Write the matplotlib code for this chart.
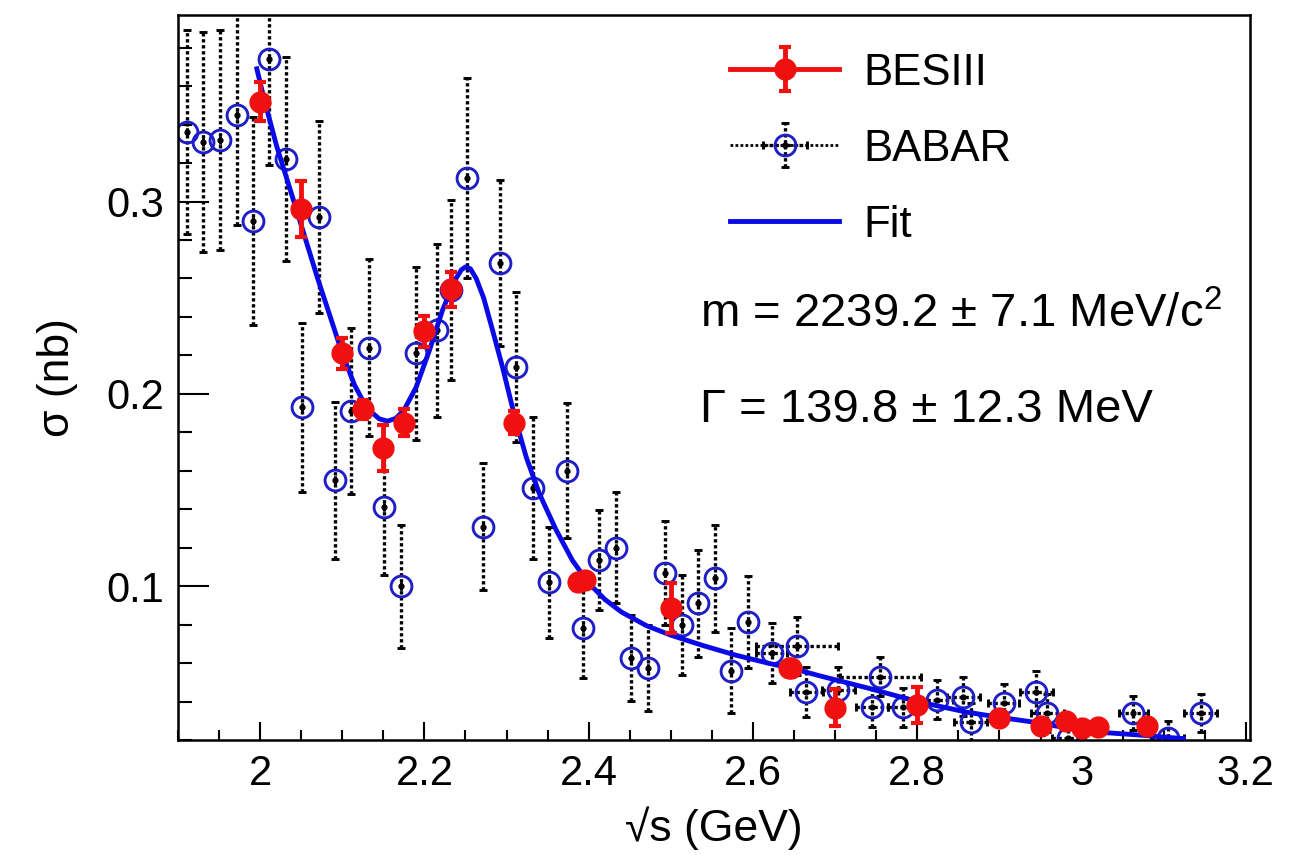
import matplotlib
matplotlib.use("Agg")
import matplotlib.pyplot as plt
from matplotlib.lines import Line2D
from matplotlib.ticker import FixedLocator, MultipleLocator

plt.rcParams['font.family'] = ['Liberation Sans', 'DejaVu Sans']
plt.rcParams['mathtext.fontset'] = 'custom'
plt.rcParams['mathtext.rm'] = 'Liberation Sans'

# BESIII points
bes_x = [2.0, 2.05, 2.1, 2.125, 2.15, 2.175, 2.2, 2.2324, 2.3094, 2.3864, 2.396,
         2.5, 2.6444, 2.6464, 2.7, 2.8, 2.9, 2.95, 2.981, 3.0, 3.02, 3.08]
bes_y = [0.352, 0.296, 0.221, 0.192, 0.172, 0.185, 0.2326, 0.2544, 0.185, 0.102, 0.103,
         0.0886, 0.0575, 0.0575, 0.0368, 0.0383, 0.0316, 0.0275, 0.0301, 0.0264, 0.0268, 0.0275]
bes_err = [0.010, 0.0147, 0.008, 0.005, 0.012, 0.007, 0.008, 0.009, 0.006, 0.004, 0.003,
           0.013, 0.003, 0.003, 0.0095, 0.0095, 0.003, 0.003, 0.003, 0.003, 0.003, 0.003]

# BABAR points
babar_x = [1.911, 1.931, 1.951, 1.972, 1.991, 2.011, 2.032, 2.051, 2.072, 2.091,
           2.111, 2.132, 2.151, 2.172, 2.190, 2.215, 2.232, 2.252, 2.271, 2.292,
           2.312, 2.332, 2.352, 2.373, 2.393, 2.412, 2.433, 2.452, 2.472, 2.493,
           2.513, 2.533, 2.554, 2.573, 2.594, 2.623, 2.654, 2.665, 2.704, 2.745,
           2.755, 2.783, 2.824, 2.856, 2.865, 2.905, 2.945, 2.958, 2.984, 3.063,
           3.105, 3.145]
babar_y = [0.336, 0.331, 0.332, 0.345, 0.290, 0.374, 0.322, 0.193, 0.292, 0.155,
           0.191, 0.224, 0.141, 0.100, 0.221, 0.233, 0.254, 0.312, 0.131, 0.268,
           0.214, 0.151, 0.102, 0.160, 0.078, 0.1135, 0.120, 0.0627, 0.0575, 0.1067,
           0.080, 0.091, 0.104, 0.056, 0.0814, 0.0653, 0.069, 0.045, 0.046, 0.037,
           0.053, 0.037, 0.041, 0.0425, 0.0295, 0.039, 0.045, 0.034, 0.021, 0.034,
           0.021, 0.034]
babar_yerr = [0.053, 0.057, 0.057, 0.057, 0.054, 0.055, 0.053, 0.044, 0.050, 0.041,
              0.043, 0.046, 0.035, 0.032, 0.045, 0.045, 0.047, 0.052, 0.033, 0.043,
              0.039, 0.037, 0.029, 0.035, 0.026, 0.026, 0.029, 0.0225, 0.0225, 0.027,
              0.026, 0.028, 0.028, 0.022, 0.024, 0.0155, 0.015, 0.013, 0.012, 0.010,
              0.010, 0.010, 0.010, 0.010, 0.010, 0.010, 0.011, 0.010, 0.010, 0.009,
              0.009, 0.010]
babar_xerr = [0.0] * 35 + [0.019, 0.05, 0.02, 0.02, 0.019, 0.049, 0.019, 0.02, 0.02,
                           0.02, 0.019, 0.02, 0.02, 0.02, 0.018, 0.02, 0.02]

# fit curve
fit_x = [1.996, 2.005, 2.020, 2.044, 2.070, 2.100, 2.115, 2.130, 2.145, 2.155,
         2.165, 2.175, 2.190, 2.206, 2.222, 2.237, 2.245, 2.250, 2.256, 2.263,
         2.272, 2.283, 2.295, 2.310, 2.324, 2.340, 2.360, 2.380, 2.400, 2.420,
         2.440, 2.470, 2.500, 2.540, 2.580, 2.620, 2.650, 2.680, 2.740, 2.800,
         2.860, 2.900, 2.950, 2.990, 3.030, 3.070, 3.124]
fit_y = [0.3690, 0.3530, 0.3290, 0.2960, 0.2600, 0.2210, 0.2045, 0.1925, 0.1870, 0.1858,
         0.1872, 0.1915, 0.2035, 0.2225, 0.2435, 0.2590, 0.2645, 0.2660, 0.2650, 0.2600,
         0.2500, 0.2330, 0.2140, 0.1880, 0.1670, 0.1480, 0.1295, 0.1135, 0.1015, 0.0930,
         0.0865, 0.0795, 0.0745, 0.0690, 0.0640, 0.0598, 0.0570, 0.0535, 0.0470, 0.0400,
         0.0345, 0.0318, 0.0288, 0.0256, 0.0238, 0.0226, 0.0207]

xticks = [2.0, 2.2, 2.4, 2.6, 2.8, 3.0, 3.2]
xtick_labels = ['2', '2.2', '2.4', '2.6', '2.8', '3', '3.2']
yticks = [0.1, 0.2, 0.3]
ytick_labels = ['0.1', '0.2', '0.3']


def main():
    fig = plt.figure(figsize=(13.03, 8.55), dpi=100)
    ax = fig.add_axes([0.1366, 0.1345, 0.8227, 0.848])

    babar = ax.errorbar(babar_x, babar_y, yerr=babar_yerr, xerr=babar_xerr, fmt='o',
                        ms=15, mfc='none', mec='#1f1fc8', mew=2.1, ecolor='black',
                        elinewidth=2.4, capsize=3, capthick=1.5, zorder=2)
    for c in babar[2]:
        c.set_linestyle((0, (1.0, 0.8)))
    dots, = ax.plot(babar_x, babar_y, 'o', color='black', ms=3.5, zorder=3)

    fit, = ax.plot(fit_x, fit_y, color='#0a0ae6', lw=3.5, zorder=4)

    bes = ax.errorbar(bes_x, bes_y, yerr=bes_err, fmt='o', ms=15, color='#f01010',
                      ecolor='#f01010', elinewidth=3.5, capsize=4.5, capthick=3, zorder=5)

    ax.set_xlim(1.9, 3.205)
    ax.set_ylim(0.02, 0.397)
    ax.xaxis.set_major_locator(FixedLocator(xticks))
    ax.set_xticklabels(xtick_labels)
    ax.xaxis.set_minor_locator(MultipleLocator(0.05))
    ax.yaxis.set_major_locator(FixedLocator(yticks))
    ax.set_yticklabels(ytick_labels)
    ax.yaxis.set_minor_locator(MultipleLocator(0.02))
    ax.tick_params(axis='both', which='both', direction='in', top=False, right=False,
                   width=1.5, labelsize=30)
    ax.tick_params(axis='x', which='major', length=13, pad=10)
    ax.tick_params(axis='x', which='minor', length=7)
    ax.tick_params(axis='y', which='major', length=22, pad=10)
    ax.tick_params(axis='y', which='minor', length=10)
    for s in ax.spines.values():
        s.set_linewidth(1.8)

    ax.set_xlabel('\u221as (GeV)', fontsize=32, labelpad=9)
    ax.set_ylabel('\u03c3 (nb)', fontsize=32, labelpad=20)

    ax.text(0.487, 0.586, 'm = 2239.2 \u00b1 7.1 MeV/c$^{2}$', transform=ax.transAxes,
            fontsize=34, va='center', ha='left')
    ax.text(0.487, 0.455, '\u0393 = 139.8 \u00b1 12.3 MeV', transform=ax.transAxes,
            fontsize=34, va='center', ha='left')

    h_bes = (Line2D([], [], color='#f01010', lw=3.5), bes)
    h_babar = (Line2D([], [], color='black', lw=2.0, ls=(0, (1.0, 0.8))), babar, dots)
    ax.legend([h_bes, h_babar, fit], ['BESIII', 'BABAR', 'Fit'],
              loc='upper left', bbox_to_anchor=(0.515, 0.948), frameon=False,
              fontsize=31.5, handlelength=2.5, handletextpad=0.55, labelspacing=0.8,
              borderpad=0, borderaxespad=0)

    fig.savefig('out.png', dpi=100)


if __name__ == "__main__":
    main()
